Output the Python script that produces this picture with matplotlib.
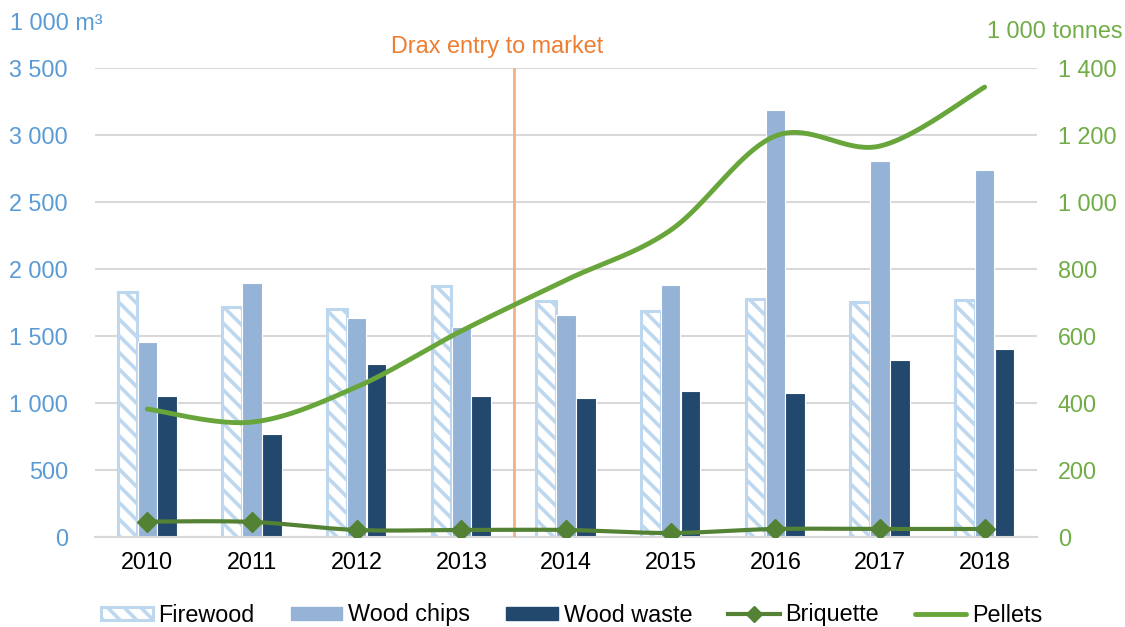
import numpy as np
import matplotlib
matplotlib.use("Agg")
import matplotlib.pyplot as plt
from matplotlib.lines import Line2D
from matplotlib.patches import Patch

plt.rcParams['font.family'] = ['Liberation Sans', 'DejaVu Sans']
plt.rcParams['hatch.linewidth'] = 2.6

years = ['2010', '2011', '2012', '2013', '2014', '2015', '2016', '2017', '2018']
firewood = [1828, 1714, 1700, 1875, 1763, 1689, 1778, 1752, 1772]
wood_chips = [1455, 1897, 1634, 1567, 1659, 1883, 3187, 2808, 2739]
wood_waste = [1054, 769, 1291, 1050, 1037, 1090, 1075, 1321, 1403]
briquette = [46, 45, 21, 21, 21, 12, 24, 24, 24]
pellets = [382, 343, 448, 615, 767, 916, 1197, 1167, 1343]

left_ticks = [0, 500, 1000, 1500, 2000, 2500, 3000, 3500]
right_ticks = [0, 200, 400, 600, 800, 1000, 1200, 1400]

FS = 16.8
BLUE_LBL = '#5B9BD5'
GREEN_LBL = '#70AD47'
C_FIRE = '#BDD7EE'
C_CHIPS = '#95B3D7'
C_WASTE = '#22486E'
C_BRIQ = '#548235'
C_PELL = '#68A53A'


def smooth(x, y, n=40):
    x = np.asarray(x, float); y = np.asarray(y, float)
    P = np.column_stack([x, y])
    m = len(P)
    out = []
    for i in range(m - 1):
        p0 = P[i - 1] if i > 0 else P[i]
        p3 = P[i + 2] if i + 2 < m else P[i + 1]
        p1, p2 = P[i], P[i + 1]
        c1 = p1 + (p2 - p0) / 6.0
        c2 = p2 - (p3 - p1) / 6.0
        t = np.linspace(0, 1, n)[:, None]
        seg = (1 - t) ** 3 * p1 + 3 * (1 - t) ** 2 * t * c1 + 3 * (1 - t) * t ** 2 * c2 + t ** 3 * p2
        out.append(seg if i == 0 else seg[1:])
    s = np.vstack(out)
    return s[:, 0], s[:, 1]


fig = plt.figure(figsize=(11.25, 6.27), dpi=100)
ax = fig.add_axes([95 / 1125, 1 - 537 / 627, (1037 - 95) / 1125, (537 - 68) / 627])
x = np.arange(len(years))
w = 0.186
off = 0.19
ax.bar(x - off, firewood, w, facecolor='white', edgecolor=C_FIRE, hatch='\\\\', linewidth=2.2, zorder=2)
ax.bar(x, wood_chips, w, color=C_CHIPS, edgecolor='white', linewidth=0.8, zorder=2)
ax.bar(x + off, wood_waste, w, color=C_WASTE, edgecolor='white', linewidth=0.8, zorder=2)

ax.set_xlim(-0.5, len(years) - 0.5)
ax.set_ylim(0, 3500)
ax.set_yticks(left_ticks)
ax.set_yticklabels([f'{v:,}'.replace(',', ' ') for v in left_ticks])
ax.set_xticks(x)
ax.set_xticklabels(years)
ax.tick_params(axis='y', colors=BLUE_LBL, labelsize=FS, length=0, pad=19.5)
ax.tick_params(axis='x', colors='black', labelsize=FS, length=0, pad=10)
ax.grid(axis='y', color='#D9D9D9', linewidth=1.5, zorder=0)
ax.set_axisbelow(True)
for s in ['top', 'right', 'left']:
    ax.spines[s].set_visible(False)
ax.spines['bottom'].set_color('#D9D9D9')
ax.spines['bottom'].set_linewidth(1.5)

ax2 = ax.twinx()
ax2.set_ylim(0, 1400)
ax2.set_yticks(right_ticks)
ax2.set_yticklabels([f'{v:,}'.replace(',', ' ') for v in right_ticks])
ax2.tick_params(axis='y', colors=GREEN_LBL, labelsize=FS, length=0, pad=15)
for s in ax2.spines.values():
    s.set_visible(False)

sx, sy = smooth(x, pellets)
ax2.plot(sx, sy, color=C_PELL, linewidth=3.5, solid_capstyle='round', zorder=4)
bx, by = smooth(x, briquette)
ax2.plot(bx, by, color=C_BRIQ, linewidth=3.0, solid_capstyle='round', zorder=4)
ax2.plot(x, briquette, linestyle='none', marker='D', markersize=10, color=C_BRIQ, zorder=5)

ax2.axvline(3.5, color='#F4B183', linewidth=2, zorder=3)
ax2.text(3.5 - 0.16, 1463, 'Drax entry to market', color='#ED7D31', fontsize=FS, ha='center', va='center',
         clip_on=False)

fig.text(10 / 1125, 1 - 24 / 627, '1 000 m³', color=BLUE_LBL, fontsize=FS, ha='left', va='center')
fig.text(1123 / 1125, 1 - 31 / 627, '1 000 tonnes', color=GREEN_LBL, fontsize=FS, ha='right', va='center')

handles = [
    Patch(facecolor='white', edgecolor=C_FIRE, hatch='\\\\', linewidth=2.2),
    Patch(facecolor=C_CHIPS, edgecolor=C_CHIPS),
    Patch(facecolor=C_WASTE, edgecolor=C_WASTE),
    Line2D([0], [0], color=C_BRIQ, linewidth=3.0, marker='D', markersize=8),
    Line2D([0], [0], color=C_PELL, linewidth=3.5, solid_capstyle='round'),
]
labels = ['Firewood', 'Wood chips', 'Wood waste', 'Briquette', 'Pellets']
leg = fig.legend(handles, labels, loc='center', bbox_to_anchor=(572 / 1125, 1 - 615 / 627), ncol=5,
                 frameon=False, fontsize=FS, handlelength=2.2, handleheight=0.5,
                 handletextpad=0.25, columnspacing=1.55)

fig.savefig('out.png', dpi=100)
